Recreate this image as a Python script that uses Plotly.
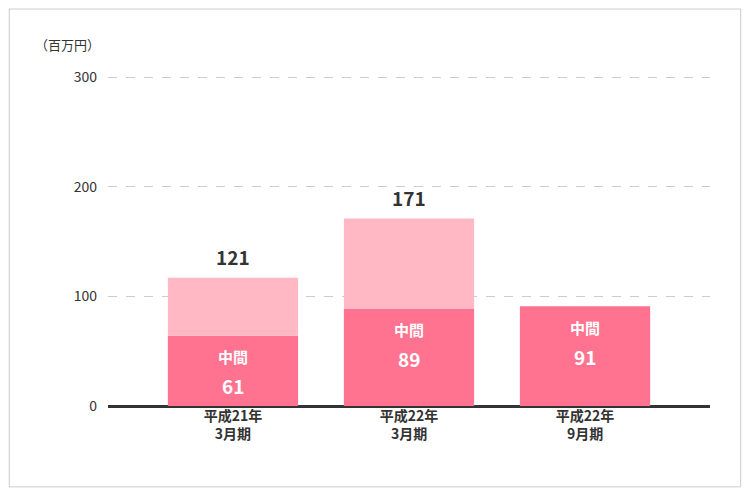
import plotly.graph_objects as go

categories = ["平成21年<br>3月期", "平成22年<br>3月期", "平成22年<br>9月期"]
interim = [64, 89, 91]
second_half = [53, 82, 0]
interim_labels = ["61", "89", "91"]
total_labels = ["121", "171", ""]

x = list(range(len(categories)))
fig = go.Figure()
fig.add_bar(x=x, y=interim, marker_color="#ff7390", marker_line_width=0, width=0.74, hoverinfo="skip")
fig.add_bar(x=x, y=second_half, base=interim, marker_color="#ffb8c4", marker_line_width=0, width=0.74, hoverinfo="skip")

for i in x:
    fig.add_annotation(x=i, y=interim[i], yref="y", text="<b>中間</b>", showarrow=False,
                       yshift=-21, font=dict(color="white", size=15))
    fig.add_annotation(x=i, y=interim[i], yref="y", text="<b>" + interim_labels[i] + "</b>", showarrow=False,
                       yshift=-50, font=dict(color="white", size=19))
    if total_labels[i]:
        fig.add_annotation(x=i, y=interim[i] + second_half[i], text="<b>" + total_labels[i] + "</b>", showarrow=False,
                           yanchor="bottom", yshift=6, font=dict(color="#333", size=19))

fig.add_annotation(xref="paper", yref="paper", x=-0.125, y=1.094, xanchor="left", yanchor="middle",
                   text="（百万円）", showarrow=False, font=dict(size=13, color="#333"))

fig.update_layout(
    width=734, height=480, barmode="overlay", showlegend=False,
    plot_bgcolor="white", paper_bgcolor="white",
    margin=dict(l=100, r=32, t=68, b=82),
    font=dict(family="Noto Sans CJK JP", color="#333"),
    xaxis=dict(tickvals=x, ticktext=["<b>" + c + "</b>" for c in categories], range=[-0.71, 2.71],
               showgrid=False, showline=False, zeroline=False, tickfont=dict(size=14, color="#333")),
    yaxis=dict(range=[0, 301], tickvals=[0, 100, 200, 300], showgrid=True, gridcolor="#cccccc",
               griddash="dash", zeroline=True, zerolinecolor="#333", zerolinewidth=3,
               tickfont=dict(size=14, color="#333"), ticks="", ticklabelstandoff=10),
    shapes=[dict(type="rect", xref="paper", yref="paper", x0=-0.164, x1=1.051, y0=-0.245, y1=1.203,
                 line=dict(color="#cccccc", width=1))],
)
fig.write_html("out.html")
